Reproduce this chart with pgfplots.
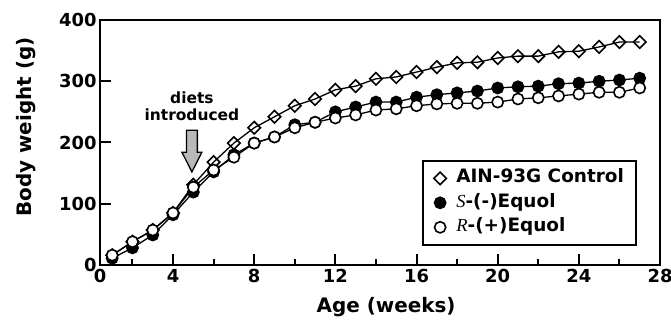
\documentclass[border=0pt]{standalone}
\usepackage{fontspec}
\setmainfont{DejaVu Sans}
\newfontfamily\timesit{Liberation Serif}
\usepackage{pgfplots}
\pgfplotsset{compat=1.18}
\begin{document}
\begin{tikzpicture}
\begin{axis}[
  at={(100bp,55bp)}, anchor=south west,
  scale only axis, width=560bp, height=245bp,
  xmin=0.4, xmax=28, ymin=0, ymax=400,
  xtick={0.4,4,8,12,16,20,24,28},
  xticklabels={0,4,8,12,16,20,24,28},
  minor xtick={2,6,10,14,18,22,26},
  ytick={0,100,200,300,400},
  tick align=inside, xtick pos=bottom, ytick pos=left,
  tickwidth=11bp, subtickwidth=6bp,
  xtick style={draw=black, line width=2bp},
  ytick style={draw=black, line width=2bp},
  axis line style={line width=2.2bp},
  /pgf/number format/assume math mode=true,
  tick label style={font=\fontsize{18}{20}\selectfont\bfseries},
  xticklabel style={yshift=-1bp},
  xlabel={Age (weeks)}, ylabel={Body weight (g)},
  label style={font=\fontsize{20}{22}\selectfont\bfseries},
  xlabel style={at={(axis description cs:0.511,-0.192)}, anchor=base},
  ylabel style={at={(axis description cs:-0.132,0.563)}, anchor=center},
  clip=false,
  legend style={at={(rel axis cs:0.575,0.429)}, anchor=north west,
    draw=black, line width=1.8bp, font=\fontsize{18.5}{20}\selectfont\bfseries,
    inner xsep=11bp, inner ysep=8bp, row sep=5.5bp, column sep=9bp,
    nodes={inner sep=1bp, text height=13bp, text depth=4bp}},
  legend cell align=left,
  legend image code/.code={\draw[#1] plot[only marks] coordinates {(0cm,0cm)};},
]
\addplot[black, line width=1.3bp, mark=square, mark size=4.4bp,
  mark options={rotate=45, fill=white, line width=1.6bp}] coordinates {
(1,16)(2,38)(3,57)(4,85)(5,131)(6,168)(7,199)(8,224)(9,242)(10,260)
(11,271)(12,286)(13,292)(14,304)(15,307)(16,315)(17,323)(18,330)(19,331)
(20,338)(21,341)(22,341)(23,348)(24,349)(25,356)(26,364)(27,364)};
\addlegendentry{AIN-93G Control}
\addplot[black, line width=1.3bp, mark=*, mark size=5.6bp,
  mark options={fill=black, line width=1.6bp}] coordinates {
(1,11)(2,28)(3,49)(4,82)(5,119)(6,152)(7,180)(8,199)(9,209)(10,229)
(11,233)(12,250)(13,258)(14,266)(15,266)(16,274)(17,278)(18,281)(19,284)
(20,289)(21,291)(22,292)(23,296)(24,297)(25,300)(26,302)(27,305)};
\addlegendentry{{\timesit\mdseries\itshape S}-(-)Equol}
\addplot[black, line width=1.3bp, mark=*, mark size=5.6bp,
  mark options={fill=white, line width=1.6bp}] coordinates {
(1,16)(2,38)(3,57)(4,85)(5,127)(6,155)(7,176)(8,199)(9,209)(10,224)
(11,233)(12,240)(13,245)(14,253)(15,255)(16,260)(17,263)(18,264)(19,264)
(20,266)(21,271)(22,273)(23,276)(24,279)(25,282)(26,282)(27,289)};
\addlegendentry{{\timesit\mdseries\itshape R}-(+)Equol}
\pgfplotsinvokeforeach{4,8,12,16,20,24}{
  \draw[black, line width=2bp] (axis cs:#1,0) -- (axis cs:#1,18);}
\pgfplotsinvokeforeach{2,6,10,14,18,22,26}{
  \draw[black, line width=2bp] (axis cs:#1,0) -- (axis cs:#1,10);}
\pgfplotsinvokeforeach{100,200,300}{
  \draw[black, line width=2bp] (axis cs:0.4,#1) -- (axis cs:0.94,#1);}
\draw[black, line width=1.3bp, fill=gray!55]
  (axis cs:4.66,220) -- (axis cs:5.20,220) -- (axis cs:5.20,184)
  -- (axis cs:5.42,184) -- (axis cs:4.93,152) -- (axis cs:4.44,184)
  -- (axis cs:4.66,184) -- cycle;
\node[align=center, font=\fontsize{15.5}{17}\selectfont\bfseries, inner sep=0pt]
  at (axis cs:4.93,259) {diets\\introduced};
\end{axis}
\pgfresetboundingbox
\path[use as bounding box] (0,0) rectangle (671bp,320bp);
\end{tikzpicture}
\end{document}
